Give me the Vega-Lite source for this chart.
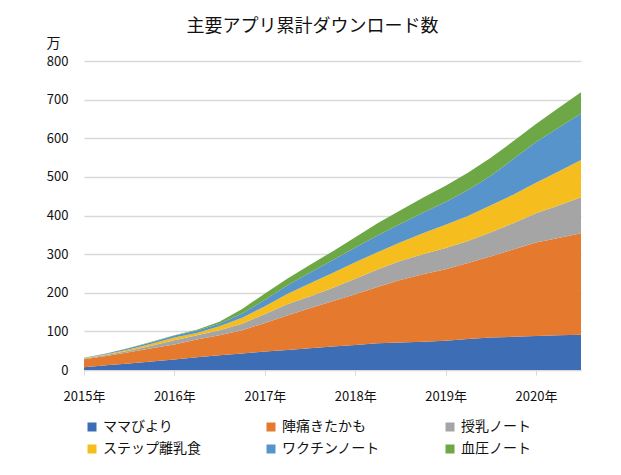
{
  "$schema": "https://vega.github.io/schema/vega-lite/v6.json",
  "width": 497,
  "height": 309,
  "autosize": {"type": "none"},
  "padding": {"left": 84, "top": 61, "right": 40, "bottom": 105},
  "background": "white",
  "title": {
    "text": "主要アプリ累計ダウンロード数",
    "font": "Noto Sans CJK JP",
    "fontSize": 18,
    "fontWeight": "normal",
    "color": "#111111",
    "anchor": "middle",
    "dx": -20,
    "offset": 0
  },
  "data": {
    "values": [
      {"date": "2015-01-01T00:00:00", "app": "ママびより", "ord": 1, "v": 7},
      {"date": "2015-01-01T00:00:00", "app": "陣痛きたかも", "ord": 2, "v": 21},
      {"date": "2015-01-01T00:00:00", "app": "授乳ノート", "ord": 3, "v": 2},
      {"date": "2015-01-01T00:00:00", "app": "ステップ離乳食", "ord": 4, "v": 1},
      {"date": "2015-01-01T00:00:00", "app": "ワクチンノート", "ord": 5, "v": 1},
      {"date": "2015-01-01T00:00:00", "app": "血圧ノート", "ord": 6, "v": 0},
      {"date": "2015-04-01T00:00:00", "app": "ママびより", "ord": 1, "v": 12},
      {"date": "2015-04-01T00:00:00", "app": "陣痛きたかも", "ord": 2, "v": 24},
      {"date": "2015-04-01T00:00:00", "app": "授乳ノート", "ord": 3, "v": 3},
      {"date": "2015-04-01T00:00:00", "app": "ステップ離乳食", "ord": 4, "v": 2},
      {"date": "2015-04-01T00:00:00", "app": "ワクチンノート", "ord": 5, "v": 2},
      {"date": "2015-04-01T00:00:00", "app": "血圧ノート", "ord": 6, "v": 0},
      {"date": "2015-07-01T00:00:00", "app": "ママびより", "ord": 1, "v": 17},
      {"date": "2015-07-01T00:00:00", "app": "陣痛きたかも", "ord": 2, "v": 29},
      {"date": "2015-07-01T00:00:00", "app": "授乳ノート", "ord": 3, "v": 4},
      {"date": "2015-07-01T00:00:00", "app": "ステップ離乳食", "ord": 4, "v": 3},
      {"date": "2015-07-01T00:00:00", "app": "ワクチンノート", "ord": 5, "v": 3},
      {"date": "2015-07-01T00:00:00", "app": "血圧ノート", "ord": 6, "v": 1},
      {"date": "2015-10-01T00:00:00", "app": "ママびより", "ord": 1, "v": 22},
      {"date": "2015-10-01T00:00:00", "app": "陣痛きたかも", "ord": 2, "v": 34},
      {"date": "2015-10-01T00:00:00", "app": "授乳ノート", "ord": 3, "v": 7},
      {"date": "2015-10-01T00:00:00", "app": "ステップ離乳食", "ord": 4, "v": 5},
      {"date": "2015-10-01T00:00:00", "app": "ワクチンノート", "ord": 5, "v": 4},
      {"date": "2015-10-01T00:00:00", "app": "血圧ノート", "ord": 6, "v": 1},
      {"date": "2016-01-01T00:00:00", "app": "ママびより", "ord": 1, "v": 27},
      {"date": "2016-01-01T00:00:00", "app": "陣痛きたかも", "ord": 2, "v": 39},
      {"date": "2016-01-01T00:00:00", "app": "授乳ノート", "ord": 3, "v": 11},
      {"date": "2016-01-01T00:00:00", "app": "ステップ離乳食", "ord": 4, "v": 7},
      {"date": "2016-01-01T00:00:00", "app": "ワクチンノート", "ord": 5, "v": 5},
      {"date": "2016-01-01T00:00:00", "app": "血圧ノート", "ord": 6, "v": 1},
      {"date": "2016-04-01T00:00:00", "app": "ママびより", "ord": 1, "v": 33},
      {"date": "2016-04-01T00:00:00", "app": "陣痛きたかも", "ord": 2, "v": 46},
      {"date": "2016-04-01T00:00:00", "app": "授乳ノート", "ord": 3, "v": 11},
      {"date": "2016-04-01T00:00:00", "app": "ステップ離乳食", "ord": 4, "v": 6},
      {"date": "2016-04-01T00:00:00", "app": "ワクチンノート", "ord": 5, "v": 6},
      {"date": "2016-04-01T00:00:00", "app": "血圧ノート", "ord": 6, "v": 2},
      {"date": "2016-07-01T00:00:00", "app": "ママびより", "ord": 1, "v": 38},
      {"date": "2016-07-01T00:00:00", "app": "陣痛きたかも", "ord": 2, "v": 52},
      {"date": "2016-07-01T00:00:00", "app": "授乳ノート", "ord": 3, "v": 13},
      {"date": "2016-07-01T00:00:00", "app": "ステップ離乳食", "ord": 4, "v": 10},
      {"date": "2016-07-01T00:00:00", "app": "ワクチンノート", "ord": 5, "v": 7},
      {"date": "2016-07-01T00:00:00", "app": "血圧ノート", "ord": 6, "v": 5},
      {"date": "2016-10-01T00:00:00", "app": "ママびより", "ord": 1, "v": 43},
      {"date": "2016-10-01T00:00:00", "app": "陣痛きたかも", "ord": 2, "v": 60},
      {"date": "2016-10-01T00:00:00", "app": "授乳ノート", "ord": 3, "v": 17},
      {"date": "2016-10-01T00:00:00", "app": "ステップ離乳食", "ord": 4, "v": 15},
      {"date": "2016-10-01T00:00:00", "app": "ワクチンノート", "ord": 5, "v": 11},
      {"date": "2016-10-01T00:00:00", "app": "血圧ノート", "ord": 6, "v": 12},
      {"date": "2017-01-01T00:00:00", "app": "ママびより", "ord": 1, "v": 48},
      {"date": "2017-01-01T00:00:00", "app": "陣痛きたかも", "ord": 2, "v": 74},
      {"date": "2017-01-01T00:00:00", "app": "授乳ノート", "ord": 3, "v": 23},
      {"date": "2017-01-01T00:00:00", "app": "ステップ離乳食", "ord": 4, "v": 20},
      {"date": "2017-01-01T00:00:00", "app": "ワクチンノート", "ord": 5, "v": 17},
      {"date": "2017-01-01T00:00:00", "app": "血圧ノート", "ord": 6, "v": 16},
      {"date": "2017-04-01T00:00:00", "app": "ママびより", "ord": 1, "v": 52},
      {"date": "2017-04-01T00:00:00", "app": "陣痛きたかも", "ord": 2, "v": 89},
      {"date": "2017-04-01T00:00:00", "app": "授乳ノート", "ord": 3, "v": 29},
      {"date": "2017-04-01T00:00:00", "app": "ステップ離乳食", "ord": 4, "v": 27},
      {"date": "2017-04-01T00:00:00", "app": "ワクチンノート", "ord": 5, "v": 22},
      {"date": "2017-04-01T00:00:00", "app": "血圧ノート", "ord": 6, "v": 17},
      {"date": "2017-07-01T00:00:00", "app": "ママびより", "ord": 1, "v": 56},
      {"date": "2017-07-01T00:00:00", "app": "陣痛きたかも", "ord": 2, "v": 104},
      {"date": "2017-07-01T00:00:00", "app": "授乳ノート", "ord": 3, "v": 30},
      {"date": "2017-07-01T00:00:00", "app": "ステップ離乳食", "ord": 4, "v": 34},
      {"date": "2017-07-01T00:00:00", "app": "ワクチンノート", "ord": 5, "v": 28},
      {"date": "2017-07-01T00:00:00", "app": "血圧ノート", "ord": 6, "v": 20},
      {"date": "2017-10-01T00:00:00", "app": "ママびより", "ord": 1, "v": 61},
      {"date": "2017-10-01T00:00:00", "app": "陣痛きたかも", "ord": 2, "v": 117},
      {"date": "2017-10-01T00:00:00", "app": "授乳ノート", "ord": 3, "v": 34},
      {"date": "2017-10-01T00:00:00", "app": "ステップ離乳食", "ord": 4, "v": 39},
      {"date": "2017-10-01T00:00:00", "app": "ワクチンノート", "ord": 5, "v": 33},
      {"date": "2017-10-01T00:00:00", "app": "血圧ノート", "ord": 6, "v": 23},
      {"date": "2018-01-01T00:00:00", "app": "ママびより", "ord": 1, "v": 65},
      {"date": "2018-01-01T00:00:00", "app": "陣痛きたかも", "ord": 2, "v": 131},
      {"date": "2018-01-01T00:00:00", "app": "授乳ノート", "ord": 3, "v": 40},
      {"date": "2018-01-01T00:00:00", "app": "ステップ離乳食", "ord": 4, "v": 43},
      {"date": "2018-01-01T00:00:00", "app": "ワクチンノート", "ord": 5, "v": 38},
      {"date": "2018-01-01T00:00:00", "app": "血圧ノート", "ord": 6, "v": 27},
      {"date": "2018-04-01T00:00:00", "app": "ママびより", "ord": 1, "v": 69},
      {"date": "2018-04-01T00:00:00", "app": "陣痛きたかも", "ord": 2, "v": 146},
      {"date": "2018-04-01T00:00:00", "app": "授乳ノート", "ord": 3, "v": 45},
      {"date": "2018-04-01T00:00:00", "app": "ステップ離乳食", "ord": 4, "v": 45},
      {"date": "2018-04-01T00:00:00", "app": "ワクチンノート", "ord": 5, "v": 43},
      {"date": "2018-04-01T00:00:00", "app": "血圧ノート", "ord": 6, "v": 32},
      {"date": "2018-07-01T00:00:00", "app": "ママびより", "ord": 1, "v": 71},
      {"date": "2018-07-01T00:00:00", "app": "陣痛きたかも", "ord": 2, "v": 162},
      {"date": "2018-07-01T00:00:00", "app": "授乳ノート", "ord": 3, "v": 49},
      {"date": "2018-07-01T00:00:00", "app": "ステップ離乳食", "ord": 4, "v": 48},
      {"date": "2018-07-01T00:00:00", "app": "ワクチンノート", "ord": 5, "v": 48},
      {"date": "2018-07-01T00:00:00", "app": "血圧ノート", "ord": 6, "v": 35},
      {"date": "2018-10-01T00:00:00", "app": "ママびより", "ord": 1, "v": 73},
      {"date": "2018-10-01T00:00:00", "app": "陣痛きたかも", "ord": 2, "v": 175},
      {"date": "2018-10-01T00:00:00", "app": "授乳ノート", "ord": 3, "v": 52},
      {"date": "2018-10-01T00:00:00", "app": "ステップ離乳食", "ord": 4, "v": 54},
      {"date": "2018-10-01T00:00:00", "app": "ワクチンノート", "ord": 5, "v": 53},
      {"date": "2018-10-01T00:00:00", "app": "血圧ノート", "ord": 6, "v": 39},
      {"date": "2019-01-01T00:00:00", "app": "ママびより", "ord": 1, "v": 76},
      {"date": "2019-01-01T00:00:00", "app": "陣痛きたかも", "ord": 2, "v": 185},
      {"date": "2019-01-01T00:00:00", "app": "授乳ノート", "ord": 3, "v": 55},
      {"date": "2019-01-01T00:00:00", "app": "ステップ離乳食", "ord": 4, "v": 60},
      {"date": "2019-01-01T00:00:00", "app": "ワクチンノート", "ord": 5, "v": 59},
      {"date": "2019-01-01T00:00:00", "app": "血圧ノート", "ord": 6, "v": 42},
      {"date": "2019-04-01T00:00:00", "app": "ママびより", "ord": 1, "v": 80},
      {"date": "2019-04-01T00:00:00", "app": "陣痛きたかも", "ord": 2, "v": 197},
      {"date": "2019-04-01T00:00:00", "app": "授乳ノート", "ord": 3, "v": 57},
      {"date": "2019-04-01T00:00:00", "app": "ステップ離乳食", "ord": 4, "v": 65},
      {"date": "2019-04-01T00:00:00", "app": "ワクチンノート", "ord": 5, "v": 67},
      {"date": "2019-04-01T00:00:00", "app": "血圧ノート", "ord": 6, "v": 45},
      {"date": "2019-07-01T00:00:00", "app": "ママびより", "ord": 1, "v": 84},
      {"date": "2019-07-01T00:00:00", "app": "陣痛きたかも", "ord": 2, "v": 210},
      {"date": "2019-07-01T00:00:00", "app": "授乳ノート", "ord": 3, "v": 62},
      {"date": "2019-07-01T00:00:00", "app": "ステップ離乳食", "ord": 4, "v": 70},
      {"date": "2019-07-01T00:00:00", "app": "ワクチンノート", "ord": 5, "v": 76},
      {"date": "2019-07-01T00:00:00", "app": "血圧ノート", "ord": 6, "v": 47},
      {"date": "2019-10-01T00:00:00", "app": "ママびより", "ord": 1, "v": 86},
      {"date": "2019-10-01T00:00:00", "app": "陣痛きたかも", "ord": 2, "v": 226},
      {"date": "2019-10-01T00:00:00", "app": "授乳ノート", "ord": 3, "v": 68},
      {"date": "2019-10-01T00:00:00", "app": "ステップ離乳食", "ord": 4, "v": 74},
      {"date": "2019-10-01T00:00:00", "app": "ワクチンノート", "ord": 5, "v": 92},
      {"date": "2019-10-01T00:00:00", "app": "血圧ノート", "ord": 6, "v": 46},
      {"date": "2020-01-01T00:00:00", "app": "ママびより", "ord": 1, "v": 88},
      {"date": "2020-01-01T00:00:00", "app": "陣痛きたかも", "ord": 2, "v": 242},
      {"date": "2020-01-01T00:00:00", "app": "授乳ノート", "ord": 3, "v": 76},
      {"date": "2020-01-01T00:00:00", "app": "ステップ離乳食", "ord": 4, "v": 79},
      {"date": "2020-01-01T00:00:00", "app": "ワクチンノート", "ord": 5, "v": 105},
      {"date": "2020-01-01T00:00:00", "app": "血圧ノート", "ord": 6, "v": 47},
      {"date": "2020-04-01T00:00:00", "app": "ママびより", "ord": 1, "v": 90},
      {"date": "2020-04-01T00:00:00", "app": "陣痛きたかも", "ord": 2, "v": 252},
      {"date": "2020-04-01T00:00:00", "app": "授乳ノート", "ord": 3, "v": 84},
      {"date": "2020-04-01T00:00:00", "app": "ステップ離乳食", "ord": 4, "v": 88},
      {"date": "2020-04-01T00:00:00", "app": "ワクチンノート", "ord": 5, "v": 113},
      {"date": "2020-04-01T00:00:00", "app": "血圧ノート", "ord": 6, "v": 51},
      {"date": "2020-07-01T00:00:00", "app": "ママびより", "ord": 1, "v": 91},
      {"date": "2020-07-01T00:00:00", "app": "陣痛きたかも", "ord": 2, "v": 263},
      {"date": "2020-07-01T00:00:00", "app": "授乳ノート", "ord": 3, "v": 93},
      {"date": "2020-07-01T00:00:00", "app": "ステップ離乳食", "ord": 4, "v": 97},
      {"date": "2020-07-01T00:00:00", "app": "ワクチンノート", "ord": 5, "v": 120},
      {"date": "2020-07-01T00:00:00", "app": "血圧ノート", "ord": 6, "v": 55}
    ]
  },
  "mark": {"type": "area", "interpolate": "linear", "opacity": 1},
  "encoding": {
    "x": {
      "field": "date",
      "type": "temporal",
      "scale": {"domain": [{"year": 2015, "month": 1, "date": 1}, {"year": 2020, "month": 7, "date": 1}]},
      "axis": {
        "title": null,
        "format": "%Y年",
        "values": [
          {"year": 2015, "month": 1, "date": 1},
          {"year": 2016, "month": 1, "date": 1},
          {"year": 2017, "month": 1, "date": 1},
          {"year": 2018, "month": 1, "date": 1},
          {"year": 2019, "month": 1, "date": 1},
          {"year": 2020, "month": 1, "date": 1}
        ],
        "grid": false,
        "domainColor": "#D9D9D9",
        "domainWidth": 1,
        "tickColor": "#D9D9D9",
        "tickSize": 5,
        "labelFont": "Noto Sans CJK JP",
        "labelFontSize": 13,
        "labelColor": "#111111",
        "labelPadding": 15,
        "labelFlush": false
      }
    },
    "y": {
      "field": "v",
      "type": "quantitative",
      "stack": "zero",
      "scale": {"domain": [0, 800], "nice": false},
      "axis": {
        "title": "万",
        "titleAngle": 0,
        "titleX": -38,
        "titleY": -18,
        "titleAlign": "left",
        "titleBaseline": "middle",
        "titleFont": "Noto Sans CJK JP",
        "titleFontSize": 14,
        "titleFontWeight": "normal",
        "titleColor": "#111111",
        "values": [0, 100, 200, 300, 400, 500, 600, 700, 800],
        "domain": false,
        "ticks": false,
        "gridColor": "#D9D9D9",
        "gridWidth": 1.5,
        "labelFont": "Noto Sans CJK JP",
        "labelFontSize": 13,
        "labelColor": "#111111",
        "labelPadding": 16
      }
    },
    "color": {
      "field": "app",
      "type": "nominal",
      "scale": {
        "domain": ["ママびより", "陣痛きたかも", "授乳ノート", "ステップ離乳食", "ワクチンノート", "血圧ノート"],
        "range": ["#3D6DB4", "#E5792D", "#A5A5A5", "#F5BD1E", "#5694CB", "#6EA745"]
      },
      "legend": {
        "orient": "none",
        "legendX": 1,
        "legendY": 359,
        "direction": "horizontal",
        "columns": 3,
        "title": null,
        "padding": 0,
        "symbolType": "square",
        "symbolSize": 81,
        "symbolStrokeWidth": 0,
        "labelFont": "Noto Sans CJK JP",
        "labelFontSize": 14,
        "labelColor": "#111111",
        "labelOffset": 4,
        "columnPadding": 63,
        "rowPadding": 8
      }
    },
    "order": {"field": "ord", "type": "quantitative", "sort": "ascending"}
  },
  "config": {
    "view": {"stroke": null}
  }
}
